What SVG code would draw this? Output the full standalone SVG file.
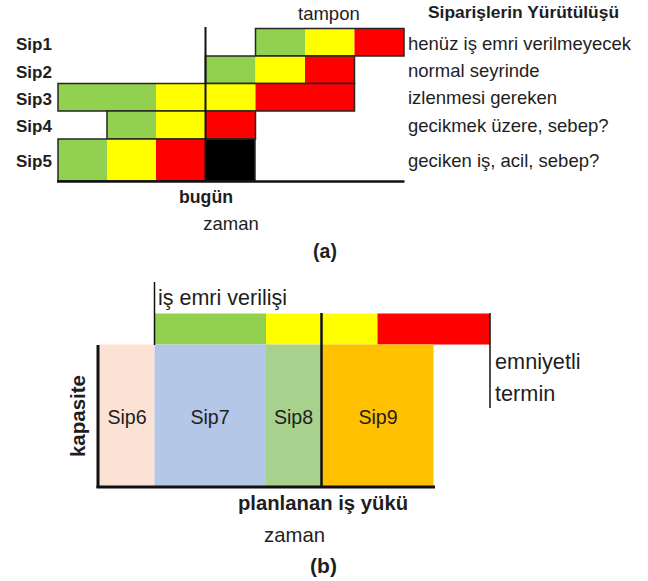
<svg xmlns="http://www.w3.org/2000/svg" width="648" height="581" viewBox="0 0 648 581">
<style>
text{font-family:"Liberation Sans",Arial,sans-serif;fill:#1e1e1e}
.b{font-weight:bold}
.r{font-size:18.5px}
.lb{font-size:17px;font-weight:bold}
.g{fill:#92D050}.y{fill:#FFFF00}.rd{fill:#FF0000}.k{fill:#000}
.ol{fill:none;stroke:#262626;stroke-width:1.5}
.ln{stroke:#111;fill:none}
.m{text-anchor:middle}
.big{font-size:20px}
</style>
<rect width="648" height="581" fill="#fff"/>
<!-- (a) -->
<g id="title-a">
<text class="lb" x="428" y="18" style="font-size:17.4px">Siparişlerin Yürütülüşü</text>
<text class="r" x="298" y="20">tampon</text>
</g>
<g id="sip1">
<text class="lb" x="16" y="50">Sip1</text>
<rect class="g" x="255.5" y="28.5" width="49.5" height="27.5"/>
<rect class="y" x="305" y="28.5" width="49.5" height="27.5"/>
<rect class="rd" x="354.5" y="28.5" width="49.5" height="27.5"/>
<rect class="ol" x="255.5" y="28.5" width="148.5" height="27.5"/>
<text class="r" x="408" y="50">henüz iş emri verilmeyecek</text>
</g>
<g id="sip2">
<text class="lb" x="16" y="78">Sip2</text>
<rect class="g" x="205.5" y="56" width="50" height="27.5"/>
<rect class="y" x="255.5" y="56" width="49.5" height="27.5"/>
<rect class="rd" x="305" y="56" width="49.5" height="27.5"/>
<rect class="ol" x="205.5" y="56" width="149" height="27.5"/>
<text class="r" x="408" y="77">normal seyrinde</text>
</g>
<g id="sip3">
<text class="lb" x="16" y="105">Sip3</text>
<rect class="g" x="58" y="83.5" width="98" height="27.5"/>
<rect class="y" x="156" y="83.5" width="99.5" height="27.5"/>
<rect class="rd" x="255.5" y="83.5" width="99" height="27.5"/>
<rect class="ol" x="58" y="83.5" width="296.5" height="27.5"/>
<text class="r" x="408" y="104">izlenmesi gereken</text>
</g>
<g id="sip4">
<text class="lb" x="16" y="132">Sip4</text>
<rect class="g" x="107" y="111" width="49" height="28"/>
<rect class="y" x="156" y="111" width="49.5" height="28"/>
<rect class="rd" x="205.5" y="111" width="50" height="28"/>
<rect class="ol" x="107" y="111" width="148.5" height="28"/>
<text class="r" x="408" y="132">gecikmek üzere, sebep?</text>
</g>
<g id="sip5">
<text class="lb" x="16" y="167">Sip5</text>
<rect class="g" x="58" y="139" width="49" height="42"/>
<rect class="y" x="107" y="139" width="49" height="42"/>
<rect class="rd" x="156" y="139" width="49" height="42"/>
<rect class="k" x="205" y="139" width="50" height="42"/>
<rect class="ol" x="58" y="139" width="197" height="42"/>
<text class="r" x="408" y="167">geciken iş, acil, sebep?</text>
</g>
<g id="labels-a">
<text class="lb m" x="206" y="203" style="font-size:17.7px">bugün</text>
<text class="r m" x="231" y="230">zaman</text>
<text class="b m" x="325" y="258" style="font-size:19.5px">(a)</text>
</g>
<!-- (b) -->
<g id="bar-b">
<rect class="g" x="154.5" y="313.5" width="111.5" height="31"/>
<rect class="y" x="266" y="313.5" width="111.5" height="31"/>
<rect class="rd" x="377.5" y="313.5" width="112.5" height="31"/>
<text class="big" x="158" y="305" style="font-size:21.5px">iş emri verilişi</text>
</g>
<g id="sip6">
<rect x="99" y="344.5" width="55.5" height="142" fill="#FBE2D5"/>
<text class="m" x="127" y="424" style="font-size:19.6px">Sip6</text>
</g>
<g id="sip7">
<rect x="154.5" y="344.5" width="111.5" height="142" fill="#B4C7E7"/>
<text class="m" x="210" y="424" style="font-size:19.6px">Sip7</text>
</g>
<g id="sip8">
<rect x="266" y="344.5" width="55.5" height="142" fill="#A9D18E"/>
<text class="m" x="293.5" y="424" style="font-size:19.6px">Sip8</text>
</g>
<g id="sip9">
<rect x="321.5" y="344.5" width="112" height="142" fill="#FFC000"/>
<text class="m" x="378" y="424" style="font-size:19.6px">Sip9</text>
</g>
<g id="labels-b">
<text class="big" x="495" y="369" style="font-size:21.7px">emniyetli</text>
<text class="big" x="495" y="401" style="font-size:21.7px">termin</text>
<text class="b m" transform="translate(85 416) rotate(-90)" style="font-size:20.5px">kapasite</text>
<text class="b m" x="323" y="510" style="font-size:20.3px">planlanan iş yükü</text>
<text class="m" x="294.5" y="542" style="font-size:20.3px">zaman</text>
<text class="b m" x="323.5" y="573" style="font-size:21px">(b)</text>
</g>
<g id="connectors">
<line class="ln" x1="205.5" y1="27" x2="205.5" y2="181" stroke-width="2"/>
<line class="ln" x1="57" y1="181.5" x2="404.5" y2="181.5" stroke-width="2.5"/>
<line class="ln" x1="154.5" y1="282" x2="154.5" y2="345" stroke-width="1.5"/>
<line class="ln" x1="321.5" y1="313" x2="321.5" y2="487" stroke-width="2.5"/>
<line class="ln" x1="490" y1="313" x2="490" y2="408" stroke-width="1.5"/>
<line class="ln" x1="98" y1="345" x2="98" y2="488" stroke-width="3"/>
<line class="ln" x1="96.5" y1="487" x2="435" y2="487" stroke-width="3"/>
</g>
</svg>
